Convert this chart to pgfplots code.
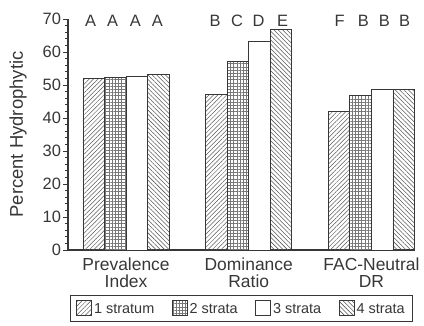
\documentclass[border=0pt]{standalone}
\usepackage{pgfplots}
\pgfplotsset{compat=1.18}
\usepackage{fontspec}
\setmainfont{Liberation Sans}
\usetikzlibrary{patterns,patterns.meta}
\definecolor{ax}{RGB}{55,55,55}
\definecolor{pc}{RGB}{90,90,90}
\definecolor{gc}{RGB}{120,120,120}
\tikzset{lett/.style={font=\fontsize{16.5}{16.5}\selectfont, text=ax}}
\begin{document}
\begin{tikzpicture}
\begin{axis}[
  scale only axis,
  width=347bp, height=231bp,
  ybar=0pt,
  bar width=0.1755,
  xmin=-0.473, xmax=2.355,
  ymin=0, ymax=70,
  axis x line*=bottom,
  axis y line*=left,
  axis line style={ax, line width=1.2pt},
  xtick={0,1,2},
  xticklabels={Prevalence\\Index, Dominance\\Ratio, FAC-Neutral\\DR},
  xticklabel style={align=center, font=\fontsize{17.5}{17}\selectfont, text=ax, yshift=0bp},
  x tick style={draw=none},
  ytick={0,10,...,70},
  minor y tick num=4,
  tick align=outside,
  major tick length=4.5bp,
  minor tick length=2.5bp,
  y tick style={ax, line width=0.8pt},
  yticklabel style={font=\fontsize{16.5}{16.5}\selectfont, text=ax, xshift=1bp},
  /pgf/number format/assume math mode=true,
  ylabel={Percent Hydrophytic},
  every axis y label/.style={at={(axis description cs:0,0.5)}, xshift=-50bp, rotate=90, anchor=center},
  ylabel style={font=\fontsize{18.5}{18.5}\selectfont, text=ax},
  clip=false,
  legend columns=4,
  legend style={at={(axis description cs:0.5,0)}, yshift=-45bp, anchor=north, draw=ax, line width=1.4pt,
    font=\fontsize{14.5}{14.5}\selectfont, text=ax,
    /tikz/every even column/.append style={column sep=15.5bp},
    inner xsep=6bp, inner ysep=4bp},
  legend image code/.code={\draw[#1, line width=0.8pt] (0bp,-5.5bp) rectangle (15bp,9.5bp);},
  every axis plot/.append style={draw=ax, line width=0.9pt},
]
\addplot[pattern={Lines[angle=45, distance=3.1bp, line width=0.5pt]}, pattern color=pc] coordinates {(0,52.1) (1,47.0) (2,41.9)};
\addplot[pattern={Hatch[angle=0, distance=3.2bp, line width=0.4pt]}, pattern color=gc] coordinates {(0,52.3) (1,57.0) (2,46.8)};
\addplot[fill=white] coordinates {(0,52.6) (1,63.2) (2,48.7)};
\addplot[pattern={Lines[angle=-45, distance=3.1bp, line width=0.55pt]}, pattern color=pc] coordinates {(0,53.2) (1,66.8) (2,48.7)};
\legend{1 stratum, 2 strata, 3 strata, 4 strata}
\node[lett] at (axis cs:-0.288,69.4) {A};
\node[lett] at (axis cs:-0.11,69.4) {A};
\node[lett] at (axis cs:0.075,69.4) {A};
\node[lett] at (axis cs:0.255,69.4) {A};
\node[lett] at (axis cs:0.725,69.4) {B};
\node[lett] at (axis cs:0.905,69.4) {C};
\node[lett] at (axis cs:1.08,69.4) {D};
\node[lett] at (axis cs:1.275,69.4) {E};
\node[lett] at (axis cs:1.74,69.4) {F};
\node[lett] at (axis cs:1.935,69.4) {B};
\node[lett] at (axis cs:2.105,69.4) {B};
\node[lett] at (axis cs:2.27,69.4) {B};
\end{axis}
\pgfresetboundingbox
\path ([xshift=-68bp,yshift=-76bp]current axis.south west) rectangle ([xshift=9bp,yshift=19bp]current axis.north east);
\end{tikzpicture}
\end{document}
